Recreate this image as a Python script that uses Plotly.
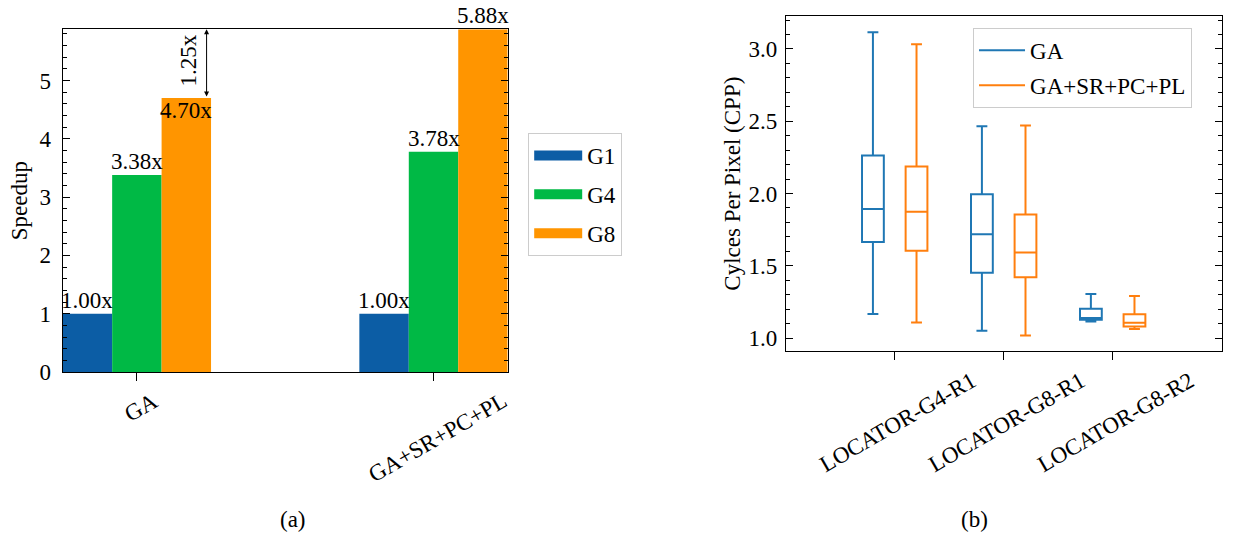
import plotly.graph_objects as go

# ---------------- data: (a) speedup bars ----------------
methods = ["GA", "GA+SR+PC+PL"]
g_series = ["G1", "G4", "G8"]
speedup_g1 = [1.00, 1.00]
speedup_g4 = [3.38, 3.78]
speedup_g8 = [4.70, 5.88]
bar_colors = ["#0C5DA5", "#00B945", "#FF9500"]
gain_text = "1.25x"

# ---------------- data: (b) cycles-per-pixel boxes ----------------
configs = ["LOCATOR-G4-R1", "LOCATOR-G8-R1", "LOCATOR-G8-R2"]
box_names = ["GA", "GA+SR+PC+PL"]
box_colors = ["#1f77b4", "#ff7f0e"]
ga_lower = [1.167, 1.051, 1.115]
ga_q1 = [1.665, 1.451, 1.126]
ga_median = [1.893, 1.718, 1.138]
ga_q3 = [2.262, 1.995, 1.202]
ga_upper = [3.115, 2.465, 1.304]
opt_lower = [1.107, 1.017, 1.062]
opt_q1 = [1.603, 1.421, 1.080]
opt_median = [1.873, 1.591, 1.105]
opt_q3 = [2.186, 1.854, 1.165]
opt_upper = [3.032, 2.470, 1.290]

FONT = "Liberation Serif"
FS = 23
font = dict(family=FONT, size=FS, color="black")

fig = go.Figure()

series_vals = [speedup_g1, speedup_g4, speedup_g8]
xpos = list(range(len(methods)))
for name, vals, col in zip(g_series, series_vals, bar_colors):
    fig.add_trace(go.Bar(x=xpos, y=vals, name=name, marker=dict(color=col, line=dict(width=0)),
                         xaxis="x", yaxis="y", showlegend=False, cliponaxis=False))
    # legend proxy (wide rectangular patch)
    fig.add_trace(go.Scatter(x=[None], y=[None], mode="lines", name=name,
                             line=dict(color=col, width=17), legend="legend",
                             legendgroup=name, xaxis="x", yaxis="y"))

box_stats = [
    (ga_lower, ga_q1, ga_median, ga_q3, ga_upper),
    (opt_lower, opt_q1, opt_median, opt_q3, opt_upper),
]
cpos = list(range(len(configs)))
for name, col, (lo, q1, med, q3, up) in zip(box_names, box_colors, box_stats):
    fig.add_trace(go.Box(x=cpos, lowerfence=lo, q1=q1, median=med, q3=q3, upperfence=up,
                         name=name, line=dict(color=col, width=2), fillcolor="rgba(0,0,0,0)",
                         whiskerwidth=0.5, boxpoints=False, showlegend=False,
                         xaxis="x2", yaxis="y2"))
    fig.add_trace(go.Scatter(x=[None], y=[None], mode="lines", name=name,
                             line=dict(color=col, width=2), legend="legend2",
                             legendgroup=name + "_b", xaxis="x2", yaxis="y2"))

annotations = []
# bar value labels
n = len(g_series)
bar_w = 0.5 / n
for k, vals in enumerate(series_vals):
    for i, v in enumerate(vals):
        inside = (k == n - 1 and i == 0)
        annotations.append(dict(
            x=i + (k - (n - 1) / 2) * bar_w, y=v, xref="x", yref="y",
            text=f"{v:.2f}x", showarrow=False, font=font,
            xanchor="center", yanchor="top" if inside else "bottom",
            yshift=2 if inside else -1))
# gain arrow between G8 bars
arrow_x = 0 + 0.235
annotations.append(dict(x=arrow_x, y=speedup_g8[1], ax=arrow_x, ay=speedup_g8[0],
                        xref="x", yref="y", axref="x", ayref="y", text="",
                        showarrow=True, arrowhead=2, startarrowhead=2, arrowside="end+start",
                        arrowsize=1, arrowwidth=1, arrowcolor="black",
                        standoff=0, startstandoff=0))
annotations.append(dict(x=0.175, y=(speedup_g8[0] + speedup_g8[1]) / 2 + 0.05, xref="x", yref="y",
                        text=gain_text, textangle=-90, showarrow=False, font=font,
                        xanchor="center", yanchor="middle"))
# rotated category labels
for i, m in enumerate(methods):
    annotations.append(dict(x=i, y=0, xref="x", yref="y", text=m, textangle=-30,
                            showarrow=False, font=font, xanchor="center", yanchor="top",
                            xshift=4, yshift=-13))
for i, c in enumerate(configs):
    annotations.append(dict(x=i, y=0.91, xref="x2", yref="y2", text=c, textangle=-30,
                            showarrow=False, font=font, xanchor="center", yanchor="top",
                            xshift=3, yshift=-14))
# subfigure captions
annotations.append(dict(x=0.237, y=0.03, xref="paper", yref="paper", text="(a)",
                        showarrow=False, font=font, xanchor="center", yanchor="middle"))
annotations.append(dict(x=0.788, y=0.03, xref="paper", yref="paper", text="(b)",
                        showarrow=False, font=font, xanchor="center", yanchor="middle"))

axis_common = dict(showline=True, linecolor="black", linewidth=1, showgrid=False,
                   zeroline=False, tickcolor="black", tickfont=font)

fig.update_layout(
    width=1237, height=536, autosize=False,
    margin=dict(l=0, r=0, t=0, b=0, autoexpand=False),
    paper_bgcolor="white", plot_bgcolor="white",
    font=font,
    barmode="group", bargap=0.5, bargroupgap=0,
    boxmode="group", boxgap=0.2, boxgroupgap=0.5,
    xaxis=dict(domain=[0.0507, 0.4104], range=[-0.25, 1.25], tickvals=xpos,
               showticklabels=False, ticks="outside", ticklen=8, mirror=True,
               anchor="y", **axis_common),
    yaxis=dict(domain=[0.306, 0.9453], range=[0, 5.88], tick0=0, dtick=1,
               ticks="inside", ticklen=7, mirror="ticks", anchor="x",
               ticklabelstandoff=6,
               minor=dict(dtick=0.2, ticks="inside", ticklen=4, tickcolor="black"),
               title=dict(text="Speedup", font=font, standoff=5), **axis_common),
    xaxis2=dict(domain=[0.6352, 0.9876], range=[-1, 3], tickvals=cpos,
                showticklabels=False, ticks="outside", ticklen=8, mirror=True,
                anchor="y2", **axis_common),
    yaxis2=dict(domain=[0.3451, 0.9696], range=[0.91, 3.226], tick0=0, dtick=0.5,
                tickformat=".1f", ticks="inside", ticklen=7, mirror="ticks", anchor="x2",
                ticklabelstandoff=3,
                minor=dict(dtick=0.1, ticks="inside", ticklen=4, tickcolor="black"),
                title=dict(text="Cylces Per Pixel (CPP)", font=font, standoff=1),
                **axis_common),
    legend=dict(x=0.427, y=0.752, xanchor="left", yanchor="top", font=font,
                bgcolor="rgba(255,255,255,0.8)", bordercolor="#cccccc", borderwidth=1,
                tracegroupgap=6, itemwidth=48),
    legend2=dict(x=0.7866, y=0.948, xanchor="left", yanchor="top", font=font,
                 bgcolor="rgba(255,255,255,0.8)", bordercolor="#cccccc", borderwidth=1,
                 tracegroupgap=2, itemwidth=46),
    annotations=annotations,
)

fig.write_html("out.html", config={"displayModeBar": False, "responsive": False},
               post_script="document.body.style.margin='0px';document.body.style.overflow='hidden';")
